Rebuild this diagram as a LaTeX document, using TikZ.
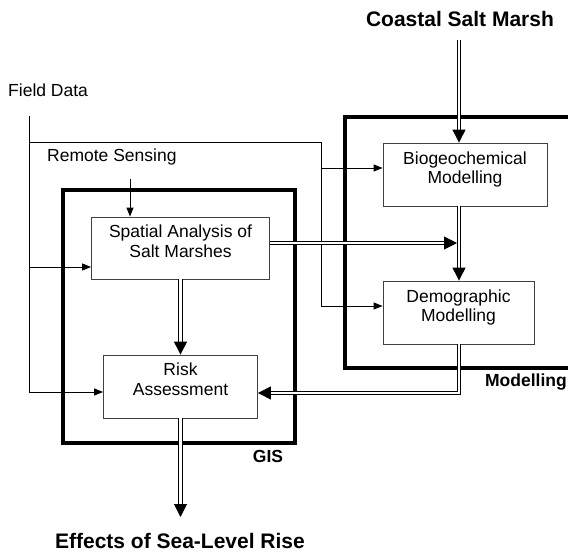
\documentclass[tikz,border=0pt]{standalone}
\usepackage{fontspec}
\setmainfont{Liberation Sans}
\usetikzlibrary{arrows.meta}
\begin{document}
\begin{tikzpicture}[x=1pt,y=-1pt,
  txt/.style={font=\fontsize{17.5}{19.5}\selectfont, inner sep=0pt},
  ttl/.style={font=\fontsize{21}{24}\selectfont\bfseries, inner sep=0pt},
  lbl/.style={font=\fontsize{17.5}{20}\selectfont\bfseries, inner sep=0pt},
  boxx/.style={draw=black!75, line width=0.8pt, rectangle, inner sep=0pt},
  frame/.style={draw=black, line width=3.6pt},
  thin/.style={draw=black, line width=0.9pt},
  sarr/.style={thin, -{Triangle[length=9pt,width=7pt]}},
  dbl/.style={draw=black, line width=1pt, double=white, double distance=2.2pt},
  darr/.style={dbl, -{Triangle[length=13pt,width=13pt]}}]
\useasboundingbox (0,0) rectangle (568,553);

% frames
\draw[frame] (63,190) rectangle (295,443);
\draw[frame] (572,117) -- (345,117) -- (345,368) -- (572,368);

% boxes
\node[boxx, minimum width=178pt, minimum height=62pt] (spatial) at (180.5,248) {};
\node[boxx, minimum width=154pt, minimum height=63pt] (risk) at (180.5,386.5) {};
\node[boxx, minimum width=164pt, minimum height=63pt] (bio) at (465,174.5) {};
\node[boxx, minimum width=151pt, minimum height=63pt] (demo) at (458.5,312.5) {};

\node[txt, align=center, anchor=north] (spatialt) at ([yshift=-8.5pt]spatial.north) {Spatial Analysis of\\Salt Marshes};
\node[txt, align=center, anchor=north] (riskt) at ([yshift=-8.5pt]risk.north) {Risk\\Assessment};
\node[txt, align=center, anchor=north] (biot) at ([yshift=-9pt]bio.north) {Biogeochemical\\Modelling};
\node[txt, align=center, anchor=north] (demot) at ([yshift=-9pt]demo.north) {Demographic\\Modelling};

% labels
\node[ttl, anchor=base] (coastal) at (460,27) {Coastal Salt Marsh};
\node[ttl, anchor=base] (effects) at (180,548) {Effects of Sea-Level Rise};
\node[lbl, anchor=base] (gis) at (268,462) {GIS};
\node[lbl, anchor=base east] (modl) at (567,387) {Modelling};
\node[txt, anchor=base west] (field) at (8,97) {Field Data};
\node[txt, anchor=base west] (remote) at (47,162) {Remote Sensing};

% coordinates
\coordinate (fdtop) at (29,116);
\coordinate (fdh) at (29,142);
\coordinate (fdv) at (321,142);
\coordinate (fdS) at (29,267);
\coordinate (fdR) at (29,392);
\coordinate (fdB) at (321,168);
\coordinate (fdD) at (321,306);
\coordinate (rs) at (130,179);
\coordinate (cm) at (459,40);
\coordinate (sp) at (459,243);
\coordinate (dmc) at (459,393);

% field data lines
\draw[thin] (fdtop) -- (fdR);
\draw[thin] (fdh) -- (fdv) -- (fdD);
\draw[sarr] (fdS) -- (fdS -| spatial.west);
\draw[sarr] (fdR) -- (fdR -| risk.west);
\draw[sarr] (fdB) -- (fdB -| bio.west);
\draw[sarr] (fdD) -- (fdD -| demo.west);
\draw[sarr] (rs) -- (rs |- spatial.north);

% double connectors
\draw[darr] (cm) -- (cm |- bio.north);
\draw[darr] (cm |- bio.south) -- (cm |- demo.north);
\draw[darr] (spatial.east |- sp) -- ([xshift=-2pt]sp);
\draw[darr] (spatial.south) -- (risk.north);
\draw[darr] (cm |- demo.south) -- (dmc) -- (dmc -| risk.east);
\draw[darr] (risk.south) -- (180.5,517);
\end{tikzpicture}
\end{document}
